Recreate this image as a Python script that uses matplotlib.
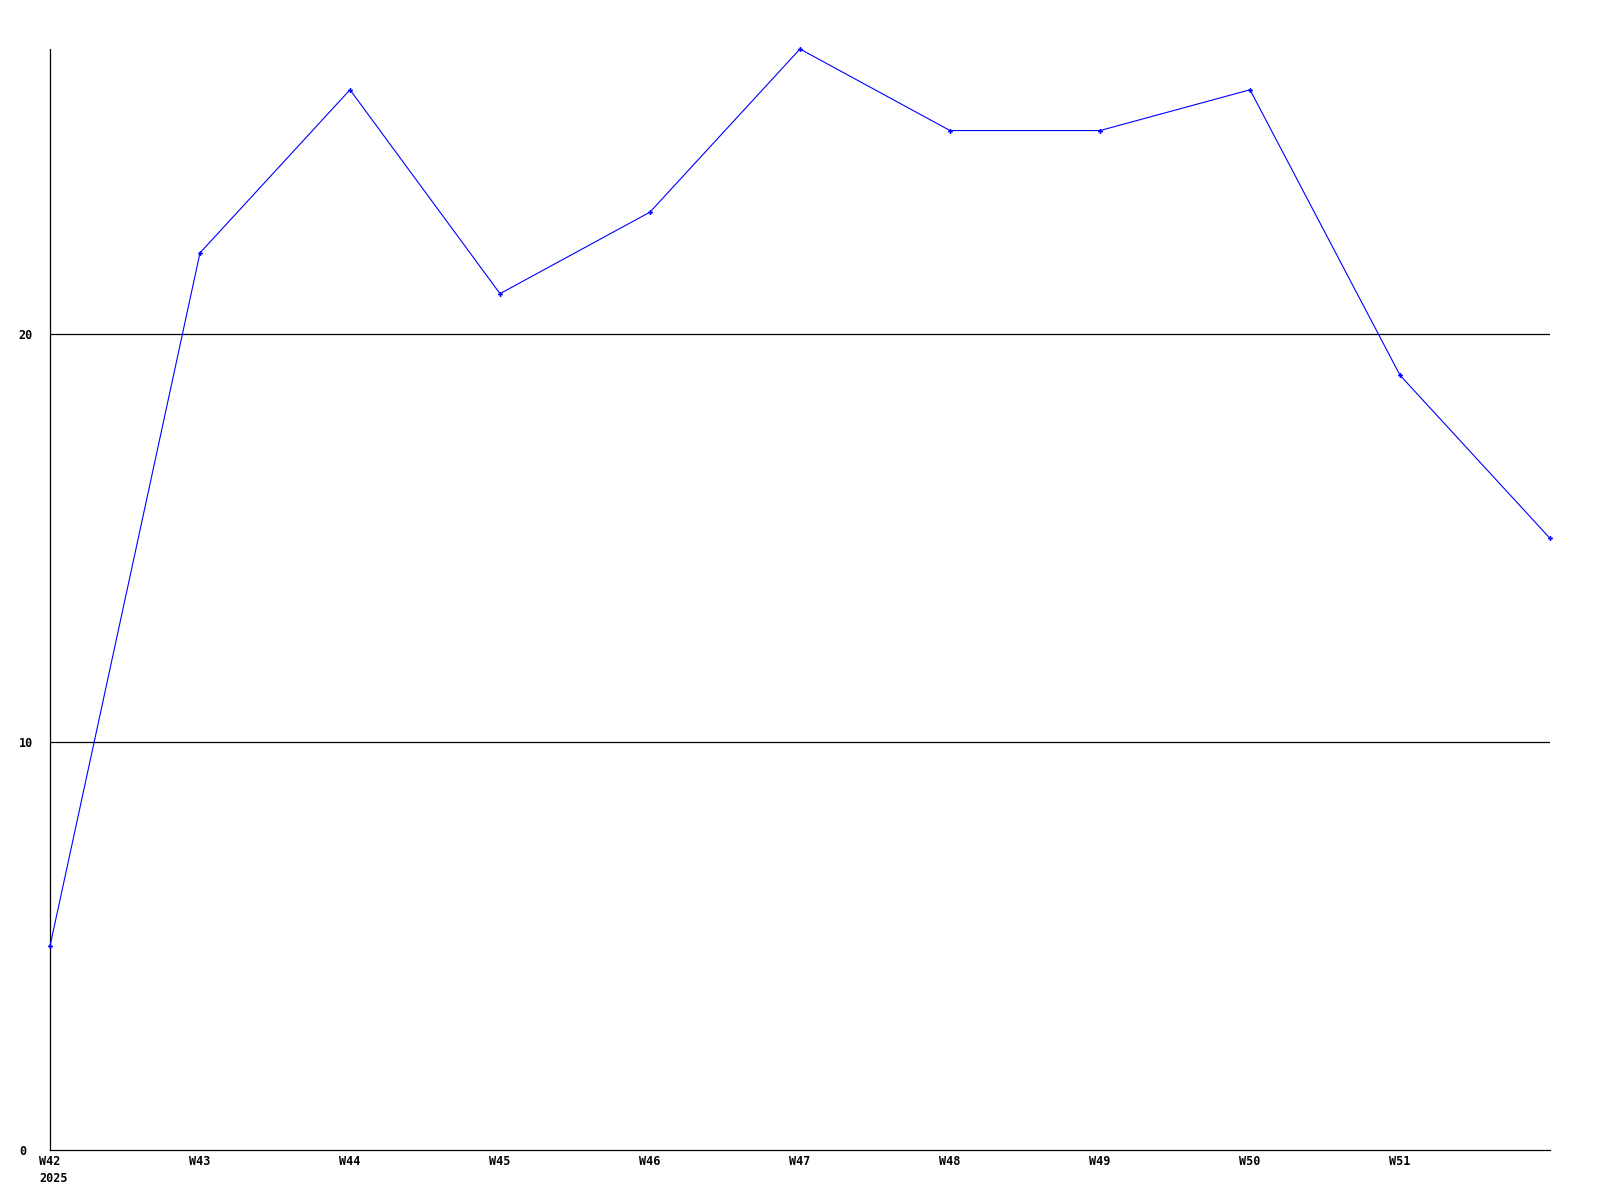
import matplotlib
matplotlib.use("Agg")
import matplotlib.pyplot as plt
import matplotlib.transforms as mtransforms

# weekly values
weeks = ["W42", "W43", "W44", "W45", "W46", "W47", "W48", "W49", "W50", "W51", "W52"]
values = [5, 22, 26, 21, 23, 27, 25, 25, 26, 19, 15]
tick_labels = ["W42\n2025", "W43", "W44", "W45", "W46", "W47", "W48", "W49", "W50", "W51"]
y_ticks = [0, 10, 20]

fig = plt.figure(figsize=(16, 12), dpi=100)
ax = fig.add_axes([50 / 1600, 50 / 1200, 1500 / 1600, 1101 / 1200])

x = list(range(len(weeks)))
ax.plot(x, values, color="#0000ff", linewidth=0.8, marker="P", markersize=3.5,
        markeredgewidth=0, zorder=3, clip_on=False)

ax.set_xlim(0, len(weeks) - 1)
ax.set_ylim(0, 27)

for yv in y_ticks[1:]:
    ax.axhline(yv, color="black", linewidth=0.9, zorder=1)

ax.spines["top"].set_visible(False)
ax.spines["right"].set_visible(False)
ax.spines["left"].set_linewidth(0.9)
ax.spines["bottom"].set_linewidth(0.9)

ax.set_xticks(x[:len(tick_labels)])
ax.set_xticklabels(tick_labels, family="DejaVu Sans Mono", fontweight="bold",
                   fontsize=8.5, ha="left", va="top", linespacing=1.4)
ax.set_yticks(y_ticks)
ax.set_yticklabels([str(v) for v in y_ticks], family="DejaVu Sans Mono",
                   fontweight="bold", fontsize=8.5, ha="left")
ax.tick_params(axis="both", length=0)
ax.tick_params(axis="x", pad=3.5)
ax.tick_params(axis="y", pad=22.5)

# shift x tick labels so they start slightly left of the tick
offset = mtransforms.ScaledTranslation(-11 / 100, 0, fig.dpi_scale_trans)
for lbl in ax.get_xticklabels():
    lbl.set_transform(lbl.get_transform() + offset)

fig.savefig("out.png", dpi=100)
